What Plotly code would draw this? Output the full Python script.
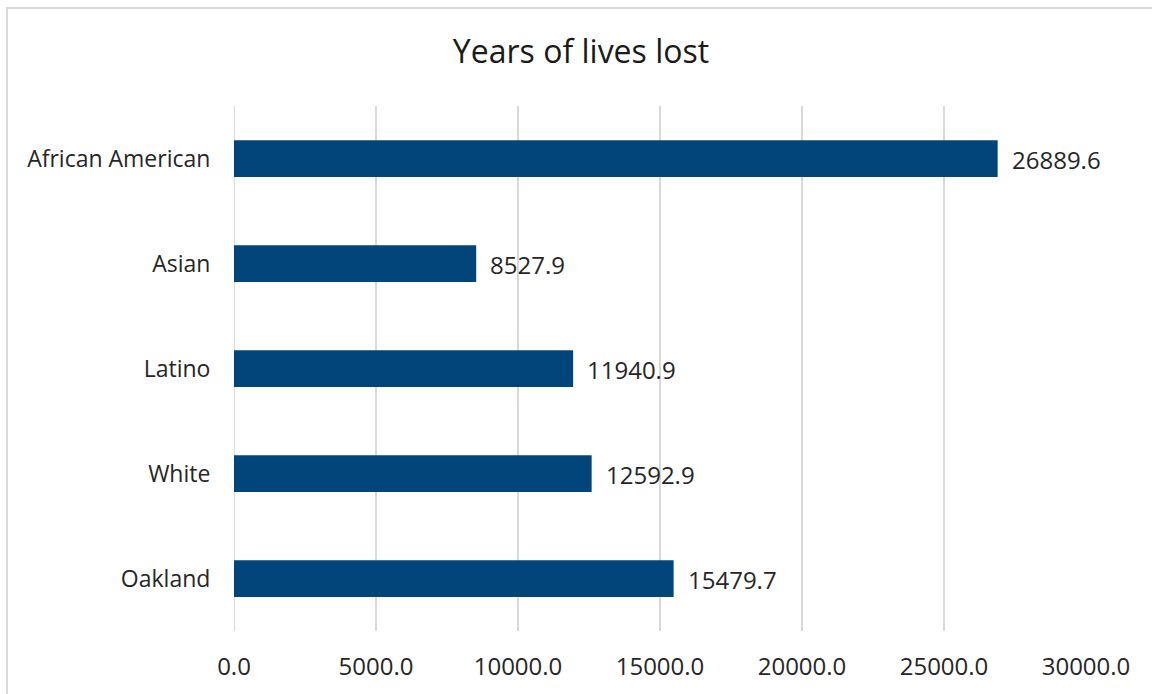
import plotly.graph_objects as go

categories = ["African American", "Asian", "Latino", "White", "Oakland"]
values = [26889.6, 8527.9, 11940.9, 12592.9, 15479.7]
tick_vals = [0, 5000, 10000, 15000, 20000, 25000, 30000]
tick_text = ["0.0", "5000.0", "10000.0", "15000.0", "20000.0", "25000.0", "30000.0"]

W, H = 1152, 694
L, R, T, B = 234, 66, 106, 63
pw, ph = W - L - R, H - T - B

FONT = "Open Sans"

fig = go.Figure()
fig.add_trace(go.Bar(
    y=categories,
    x=values,
    orientation="h",
    marker=dict(color="#02457A", line=dict(width=0)),
    width=0.35,
    hoverinfo="x+y",
))

for c, v in zip(categories, values):
    fig.add_annotation(x=v, y=c, xref="x", yref="y", text=f"{v:.1f}",
                       showarrow=False, xanchor="left", yanchor="middle",
                       xshift=12, yshift=-1,
                       font=dict(family=FONT, size=24, color="#262626"))

fig.update_layout(
    width=W, height=H,
    margin=dict(l=L, r=R, t=T, b=B, pad=0),
    paper_bgcolor="white",
    plot_bgcolor="white",
    showlegend=False,
    title=dict(text="Years of lives lost", x=581 / W, xanchor="center",
               y=1 - 52 / H, yanchor="middle",
               font=dict(family=FONT, size=32, color="#1a1a1a")),
    xaxis=dict(range=[0, 30000], tickvals=tick_vals, ticktext=tick_text,
               showgrid=True, gridcolor="#d9d9d9", gridwidth=2,
               zeroline=False, showline=False,
               ticks="outside", ticklen=14, tickcolor="rgba(0,0,0,0)",
               tickfont=dict(family=FONT, size=24, color="#262626")),
    yaxis=dict(categoryorder="array", categoryarray=categories[::-1],
               showgrid=False, zeroline=False, showline=False,
               ticks="outside", ticklen=18, tickcolor="rgba(0,0,0,0)",
               tickfont=dict(family=FONT, size=23, color="#262626")),
    shapes=[dict(type="rect", xref="paper", yref="paper",
                 x0=(7 - L) / pw, x1=2.0,
                 y0=-1.0, y1=(H - B - 8) / ph,
                 line=dict(color="#d9d9d9", width=2), fillcolor="rgba(0,0,0,0)",
                 layer="below")],
)
fig.add_shape(type="line", xref="x", yref="paper", x0=0, x1=0, y0=0, y1=1,
              line=dict(color="#d9d9d9", width=2), layer="below")

fig.write_html("out.html", config={"displayModeBar": False},
               post_script="document.body.style.margin='0';document.body.style.overflow='hidden';")
